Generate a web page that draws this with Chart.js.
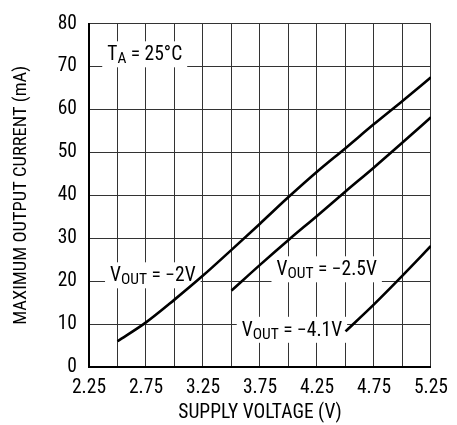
<!DOCTYPE html>
<html>
<head>
<meta charset="utf-8">
<script src="https://cdn.jsdelivr.net/npm/chart.js@4/dist/chart.umd.min.js"></script>
<style>
html,body{margin:0;padding:0;background:#fff;}
#wrap{width:457px;height:425px;}
</style>
</head>
<body>
<div id="wrap"><canvas id="c" width="457" height="425"></canvas></div>
<script>
// Data
const xV2 = [2.5, 2.75, 3.0, 3.25, 3.5, 3.75, 4.0, 4.25, 4.5, 4.75, 5.0, 5.25];
const yV2 = [6.0, 10.4, 15.7, 21.3, 27.3, 33.4, 39.6, 45.5, 51.0, 56.6, 62.0, 67.5];
const xV25 = [3.5, 3.75, 4.0, 4.25, 4.5, 4.75, 5.0, 5.25];
const yV25 = [17.8, 23.8, 29.6, 35.2, 40.9, 46.5, 52.3, 58.2];
const xV41 = [4.5, 4.75, 5.0, 5.25];
const yV41 = [8.3, 14.6, 21.3, 28.2];
const seriesNames = ['VOUT = −2V', 'VOUT = −2.5V', 'VOUT = −4.1V'];

const FONT = '"Roboto Condensed", "DejaVu Sans Condensed", sans-serif';

function pts(xs, ys){ return xs.map((x,i)=>({x:x, y:ys[i]})); }

// annotation labels (text parts: [text, isSub])
const notes = [
  {parts:[['V',false],['OUT',true],[' = −2V',false]], x:2.81, y:21.6, align:'center'},
  {parts:[['V',false],['OUT',true],[' = −2.5V',false]], x:4.335, y:23.0, align:'center'},
  {parts:[['V',false],['OUT',true],[' = −4.1V',false]], x:4.03, y:8.9, align:'center'},
  {parts:[['T',false],['A',true],[' = 25°C',false]], x:2.41, y:73.1, align:'left'}
];

const labelPlugin = {
  id:'labels',
  beforeDatasetsDraw(chart){
    const ctx = chart.ctx;
    const xs = chart.scales.x, ys = chart.scales.y;
    const mainF = '19.5px ' + FONT, subF = '15.5px ' + FONT;
    ctx.save();
    notes.forEach(n=>{
      let w = 0;
      n.parts.forEach(p=>{ ctx.font = p[1]?subF:mainF; w += ctx.measureText(p[0]).width; });
      const px = xs.getPixelForValue(n.x), py = ys.getPixelForValue(n.y);
      let left = n.align==='center' ? px - w/2 : px;
      ctx.fillStyle = '#fff';
      ctx.fillRect(left-5, py-12, w+10, 26);
      ctx.fillStyle = '#000';
      ctx.textBaseline = 'alphabetic';
      ctx.textAlign = 'left';
      let cx = left;
      const base = py + 7;
      n.parts.forEach(p=>{
        ctx.font = p[1]?subF:mainF;
        ctx.fillText(p[0], cx, base + (p[1]?3:0));
        cx += ctx.measureText(p[0]).width;
      });
    });
    ctx.restore();
  }
};

const lineStyle = {borderColor:'#000', borderWidth:2.6, pointRadius:0, fill:false, tension:0.3, cubicInterpolationMode:'monotone'};

new Chart(document.getElementById('c'), {
  type:'line',
  data:{
    datasets:[
      Object.assign({label:seriesNames[0], data:pts(xV2,yV2)}, lineStyle),
      Object.assign({label:seriesNames[1], data:pts(xV25,yV25)}, lineStyle),
      Object.assign({label:seriesNames[2], data:pts(xV41,yV41)}, lineStyle)
    ]
  },
  options:{
    responsive:false,
    animation:false,
    devicePixelRatio:1,
    layout:{padding:{top:16, right:17, left:0, bottom:0}},
    plugins:{legend:{display:false}, tooltip:{enabled:false}},
    scales:{
      x:{
        type:'linear', min:2.25, max:5.25,
        afterFit(s){ s.height = 58; },
        border:{display:true, color:'#000', width:2},
        grid:{color:'#333', lineWidth:1, drawTicks:false},
        ticks:{
          stepSize:0.25, padding:9, color:'#000', autoSkip:false, maxRotation:0,
          font:{family:FONT, size:19.5},
          callback(v){
            const k = (v-2.25)/0.5;
            return Math.abs(k-Math.round(k))<1e-6 ? v.toFixed(2) : '';
          }
        },
        title:{display:true, text:'SUPPLY VOLTAGE (V)', color:'#000', font:{family:FONT, size:19.5}, padding:{top:14,bottom:0}}
      },
      y:{
        type:'linear', min:0, max:80,
        afterFit(s){ s.width = 89; },
        border:{display:true, color:'#000', width:2},
        grid:{color:'#333', lineWidth:1, drawTicks:false},
        ticks:{stepSize:10, padding:12, color:'#000', font:{family:FONT, size:19.5}},
        title:{display:true, text:'MAXIMUM OUTPUT CURRENT (mA)', color:'#000', font:{family:FONT, size:18.5}, padding:{top:10,bottom:0}}
      }
    }
  },
  plugins:[labelPlugin]
});
</script>
</body>
</html>
